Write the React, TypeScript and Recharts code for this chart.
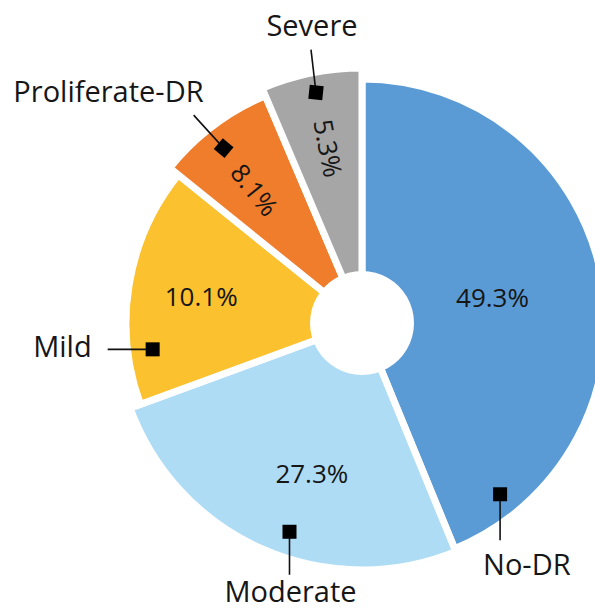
import { PieChart, Pie, Sector } from 'recharts';

// categories, clockwise from 12 o'clock
const categories = ['No-DR', 'Moderate', 'Mild', 'Proliferate-DR', 'Severe'];
// size of each slice as drawn in the figure (% of the full circle)
const arcShares = [43.8, 25.6, 16.4, 7.8, 6.4];
// percentages printed on the slices
const printedPct = [49.3, 27.3, 10.1, 8.1, 5.3];

const colors = ['#5B9BD5', '#AEDCF5', '#FCC12F', '#EF7D2C', '#A6A6A6'];
// each slice has its own outer radius in the figure
const radii = [244, 247, 236, 247, 255];

const data = categories.map((name, i) => ({ name, value: arcShares[i] }));

const FONT = '"Open Sans", "DejaVu Sans", sans-serif';
const INK = '#161616';

type Callout = {
  pctF: number;
  pctR: number;
  radial?: boolean;
  markF: number;
  markR: number;
  markRot: number;
  line: [number, number];
  text: [number, number];
  anchor: 'start' | 'middle' | 'end';
};

// label placement: F = fraction through the slice's angle, R = distance from centre
const callouts: Callout[] = [
  { pctF: 0.5, pctR: 133, markF: 0.895, markR: 220, markRot: 0, line: [0, 46], text: [-17, 35], anchor: 'start' },
  { pctF: 0.443, pctR: 158, markF: 0.45, markR: 221, markRot: 0, line: [0, 43], text: [1, 27], anchor: 'middle' },
  { pctF: 0.5, pctR: 163, markF: 0.22, markR: 211, markRot: 0, line: [-45, 0], text: [-16, 8], anchor: 'end' },
  { pctF: 0.44, pctR: 171, radial: true, markF: 0.455, markR: 223, markRot: 40, line: [-30, -33], text: [10, -13], anchor: 'end' },
  { pctF: 0.53, pctR: 178, radial: true, markF: 0.51, markR: 235, markRot: 6, line: [-5, -43], text: [1, -14], anchor: 'middle' },
];

const idxOf = (p: any) => {
  const n = p.name ?? p.payload?.name;
  const i = categories.indexOf(n);
  return i >= 0 ? i : p.index ?? 0;
};

const renderSlice = (p: any) => {
  const i = idxOf(p);
  return (
    <Sector
      cx={p.cx}
      cy={p.cy}
      innerRadius={0}
      outerRadius={radii[i]}
      startAngle={p.startAngle}
      endAngle={p.endAngle}
      fill={colors[i]}
      stroke="#ffffff"
      strokeWidth={7}
    />
  );
};

const renderLabel = (p: any) => {
  const i = idxOf(p);
  const c = callouts[i];
  const at = (f: number, r: number) => {
    const a = ((p.startAngle + f * (p.endAngle - p.startAngle)) * Math.PI) / 180;
    return [p.cx + r * Math.cos(a), p.cy - r * Math.sin(a)];
  };
  const aDeg = p.startAngle + c.pctF * (p.endAngle - p.startAngle);
  const [px, py] = at(c.pctF, c.pctR);
  const [mx, my] = at(c.markF, c.markR);
  const lx = mx + c.line[0];
  const ly = my + c.line[1];
  const rot = c.radial ? -180 - aDeg : 0;
  return (
    <g>
      <text
        x={px}
        y={py}
        textAnchor="middle"
        dominantBaseline="central"
        fontFamily={FONT}
        fontSize={26}
        fill={INK}
        transform={rot ? `rotate(${rot} ${px} ${py})` : undefined}
      >
        {printedPct[i].toFixed(1) + '%'}
      </text>
      <line x1={mx} y1={my} x2={lx} y2={ly} stroke="#111" strokeWidth={1.6} />
      <rect
        x={mx - 7}
        y={my - 7}
        width={14}
        height={14}
        fill="#000"
        transform={c.markRot ? `rotate(${c.markRot} ${mx} ${my})` : undefined}
      />
      <text
        x={lx + c.text[0]}
        y={ly + c.text[1]}
        textAnchor={c.anchor}
        fontFamily={FONT}
        fontSize={29}
        fill={INK}
      >
        {categories[i]}
      </text>
    </g>
  );
};

export default function App() {
  return (
    <div style={{ position: 'absolute', left: 0, top: 0, background: '#fff' }}>
      <PieChart width={595} height={613} margin={{ top: 0, right: 0, bottom: 0, left: 0 }}>
        <Pie
          data={data}
          dataKey="value"
          nameKey="name"
          cx={362}
          cy={323}
          innerRadius={0}
          outerRadius={250}
          startAngle={90}
          endAngle={-270}
          stroke="#ffffff"
          strokeWidth={7}
          shape={renderSlice}
          label={renderLabel}
          labelLine={false}
          isAnimationActive={false}
        />
        <Pie
          data={[{ name: 'hole', value: 1 }]}
          dataKey="value"
          cx={362}
          cy={323}
          innerRadius={0}
          outerRadius={52}
          fill="#ffffff"
          stroke="none"
          isAnimationActive={false}
        />
      </PieChart>
    </div>
  );
}
